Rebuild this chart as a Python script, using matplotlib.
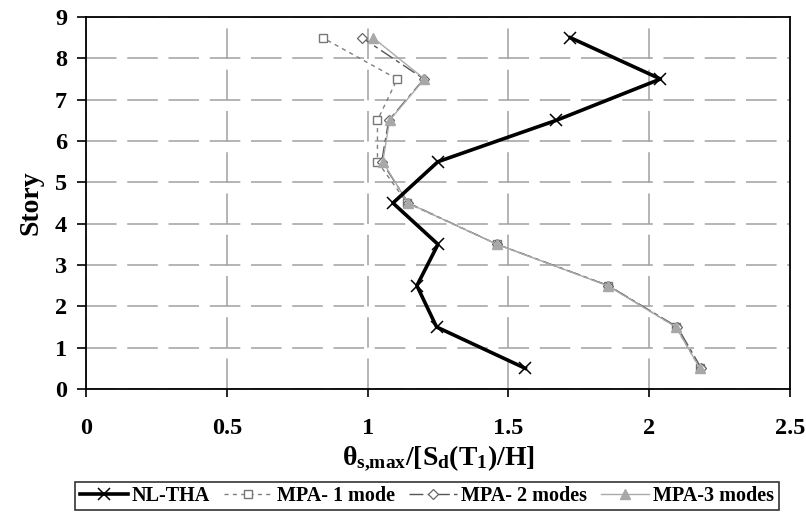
import matplotlib
matplotlib.use("Agg")
import matplotlib.pyplot as plt

# Данные: номер этажа и нормированный угол
story = [0.5, 1.5, 2.5, 3.5, 4.5, 5.5, 6.5, 7.5, 8.5]
nl_tha = [1.56, 1.245, 1.175, 1.25, 1.09, 1.25, 1.67, 2.04, 1.72]
mpa_1 = [2.18, 2.095, 1.855, 1.46, 1.14, 1.035, 1.035, 1.105, 0.84]
mpa_2 = [2.185, 2.10, 1.855, 1.46, 1.145, 1.05, 1.075, 1.20, 0.98]
mpa_3 = [2.18, 2.095, 1.852, 1.459, 1.143, 1.054, 1.078, 1.202, 1.019]

xticks = [0, 0.5, 1, 1.5, 2, 2.5]
xtick_labels = ['0', '0.5', '1', '1.5', '2', '2.5']
yticks = list(range(10))

plt.rcParams['font.family'] = ['Liberation Serif', 'DejaVu Serif']
plt.rcParams['font.weight'] = 'bold'
plt.rcParams['mathtext.fontset'] = 'custom'
plt.rcParams['mathtext.rm'] = 'Liberation Serif:bold'
plt.rcParams['mathtext.it'] = 'Liberation Serif:bold'
plt.rcParams['mathtext.bf'] = 'Liberation Serif:bold'

fig = plt.figure(figsize=(8.06, 5.14), dpi=100)
ax = fig.add_axes([86 / 806, 1 - 389 / 514, (790 - 86) / 806, (389 - 17) / 514])

ax.plot(mpa_1, story, color='#808080', lw=1.0, ls=(0, (3, 3)),
        marker='s', ms=6, mfc='white', mec='#777777', mew=1.0,
        label='MPA- 1 mode')
ax.plot(mpa_2, story, color='#555555', lw=1.0, ls=(0, (10, 3, 3, 3)),
        marker='D', ms=5, mfc='white', mec='#666666', mew=0.9,
        label='MPA- 2 modes')
ax.plot(mpa_3, story, color='#aaaaaa', lw=1.0, ls='-',
        marker='^', ms=7, mfc='#a8a8a8', mec='#a8a8a8',
        label='MPA-3 modes')
ax.plot(nl_tha, story, color='black', lw=2.6, ls='-',
        marker='x', ms=8, mew=1.1, label='NL-THA')

ax.set_xlim(0, 2.5)
ax.set_ylim(0, 9)
ax.set_xticks(xticks)
ax.set_xticklabels(xtick_labels)
ax.set_yticks(yticks)

ax.grid(True, color='#a0a0a0', lw=1.1, ls=(0, (20, 7)))
ax.set_axisbelow(True)
for s in ax.spines.values():
    s.set_color('black')
    s.set_linewidth(1.3)

ax.tick_params(axis='y', direction='out', length=6.5, width=1.2, pad=7, labelsize=17.5)
ax.tick_params(axis='x', direction='out', length=6, width=1.2, pad=15, labelsize=17.5)

ax.set_xlabel(r'$\theta_{s{,}max}/[S_d(T_1)/H]$', fontsize=20, labelpad=3)
ax.set_ylabel('Story', fontsize=20, fontweight='bold', labelpad=8)

h, l = ax.get_legend_handles_labels()
order = [3, 0, 1, 2]
leg = fig.legend([h[i] for i in order], [l[i] for i in order],
                 loc='center', bbox_to_anchor=(427 / 806, 1 - 496 / 514),
                 ncol=4, frameon=True, fancybox=False, edgecolor='black',
                 fontsize=14.5, handlelength=2.4, handletextpad=0.2,
                 columnspacing=0.7, borderpad=0.2, borderaxespad=0)
leg.get_frame().set_linewidth(1.2)

fig.savefig('out.png', dpi=100)
